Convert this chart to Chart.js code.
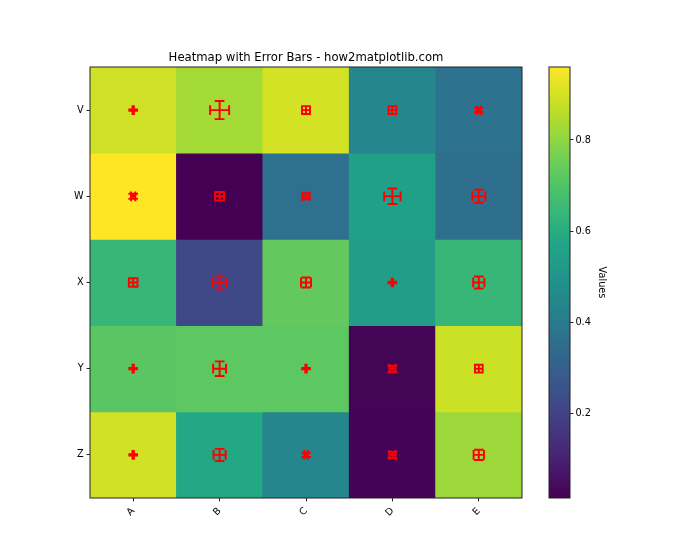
<!DOCTYPE html>
<html lang="en">
<head>
<meta charset="UTF-8">
<title>Heatmap with Error Bars - how2matplotlib.com</title>
<script src="https://cdn.jsdelivr.net/npm/chart.js"></script>
<style>
  body { margin: 0; background: #fff; }
  .wrap { position: relative; width: 700px; height: 560px; }
  .wrap canvas { position: absolute; left: 0; top: 0; }
</style>
</head>
<body>
<div class="wrap">
  <canvas id="heatmap" width="700" height="560"></canvas>
  <canvas id="colorbar" width="700" height="560"></canvas>
</div>
<script>
  const cols = ['A', 'B', 'C', 'D', 'E'];
  const rows = ['V', 'W', 'X', 'Y', 'Z'];
  // cell values, one row per label in rows
  const values = [
    [0.89, 0.83, 0.90, 0.45, 0.37],
    [0.96, 0.015, 0.365, 0.545, 0.36],
    [0.64, 0.22, 0.73, 0.535, 0.64],
    [0.715, 0.72, 0.72, 0.025, 0.885],
    [0.895, 0.58, 0.45, 0.02, 0.82]
  ];
  // error sizes (data units)
  const xErr = [
    [0.008, 0.11, 0.046, 0.046, 0.023],
    [0.025, 0.052, 0.04, 0.095, 0.075],
    [0.05, 0.08, 0.058, 0.008, 0.065],
    [0.008, 0.075, 0.008, 0.035, 0.045],
    [0.008, 0.07, 0.02, 0.035, 0.06]
  ];
  const yErr = [
    [0.008, 0.105, 0.046, 0.046, 0.025],
    [0.03, 0.05, 0.035, 0.09, 0.075],
    [0.05, 0.08, 0.058, 0.008, 0.07],
    [0.008, 0.085, 0.008, 0.035, 0.045],
    [0.008, 0.07, 0.025, 0.035, 0.06]
  ];
  const cbTicks = [0.2, 0.4, 0.6, 0.8];

  const font = 'DejaVu Sans';
  const pt = 70 / 72; // figure was saved at 70 dpi
  const viridis = ['#440154', '#482475', '#414487', '#355f8d', '#2a788e', '#21918c',
                   '#22a884', '#44bf70', '#7ad151', '#bddf26', '#fde725'];
  const allVals = values.flat();
  const vmin = Math.min(...allVals);
  const vmax = Math.max(...allVals);

  function hex(c) {
    return [1, 3, 5].map(i => parseInt(c.slice(i, i + 2), 16));
  }
  function cmap(t) {
    t = Math.max(0, Math.min(1, t));
    const p = t * 10;
    const i = Math.min(9, Math.floor(p));
    const f = p - i;
    const a = hex(viridis[i]), b = hex(viridis[i + 1]);
    const c = a.map((v, k) => Math.round(v + (b[k] - v) * f));
    return 'rgb(' + c.join(',') + ')';
  }

  // black frame round the plot area
  const frame = {
    id: 'frame',
    afterDatasetsDraw(chart) {
      const { ctx, chartArea: a } = chart;
      ctx.save();
      ctx.strokeStyle = '#222';
      ctx.lineWidth = 1;
      ctx.strokeRect(a.left, a.top, a.right - a.left, a.bottom - a.top);
      ctx.restore();
    }
  };

  // red error bars with caps, drawn at each cell centre
  const errorBars = {
    id: 'errorBars',
    afterDatasetsDraw(chart) {
      const { ctx, scales: { x, y } } = chart;
      const ux = Math.abs(x.getPixelForValue(1) - x.getPixelForValue(0));
      const uy = Math.abs(y.getPixelForValue(1) - y.getPixelForValue(0));
      const cap = 5 * pt;
      ctx.save();
      ctx.strokeStyle = '#ff0000';
      ctx.lineWidth = 2 * pt;
      rows.forEach((r, ri) => {
        cols.forEach((c, ci) => {
          const cx = x.getPixelForValue(ci);
          const cy = y.getPixelForValue(ri);
          const dx = xErr[ri][ci] * ux;
          const dy = yErr[ri][ci] * uy;
          ctx.beginPath();
          ctx.moveTo(cx - dx, cy); ctx.lineTo(cx + dx, cy);
          ctx.moveTo(cx, cy - dy); ctx.lineTo(cx, cy + dy);
          ctx.moveTo(cx - dx, cy - cap); ctx.lineTo(cx - dx, cy + cap);
          ctx.moveTo(cx + dx, cy - cap); ctx.lineTo(cx + dx, cy + cap);
          ctx.moveTo(cx - cap, cy - dy); ctx.lineTo(cx + cap, cy - dy);
          ctx.moveTo(cx - cap, cy + dy); ctx.lineTo(cx + cap, cy + dy);
          ctx.stroke();
        });
      });
      ctx.restore();
    }
  };

  new Chart(document.getElementById('heatmap'), {
    type: 'bar',
    data: {
      labels: cols,
      datasets: rows.map((r, ri) => ({
        label: r,
        data: cols.map(() => [ri - 0.5, ri + 0.5]),
        backgroundColor: values[ri].map(v => cmap((v - vmin) / (vmax - vmin))),
        borderWidth: 0,
        barPercentage: 1,
        categoryPercentage: 1,
        grouped: false
      }))
    },
    options: {
      responsive: false,
      animation: false,
      layout: { padding: { left: 60, right: 178, top: 51, bottom: 32 } },
      plugins: {
        legend: { display: false },
        tooltip: { enabled: false },
        title: {
          display: true,
          fullSize: false,
          text: 'Heatmap with Error Bars - how2matplotlib.com',
          color: '#000',
          font: { family: font, size: 12 * pt, weight: 'normal' },
          padding: { top: 0, bottom: 2 }
        }
      },
      scales: {
        x: {
          afterFit: s => { s.height = 30; },
          grid: { offset: false, drawOnChartArea: false, tickLength: 3.5 * pt, color: '#222' },
          border: { display: false },
          ticks: {
            minRotation: 45, maxRotation: 45, padding: 4, color: '#000',
            font: { family: font, size: 10 * pt }
          }
        },
        y: {
          type: 'linear',
          reverse: true,
          min: -0.5,
          max: 4.5,
          afterFit: s => { s.width = 30; },
          afterBuildTicks: s => { s.ticks = rows.map((r, i) => ({ value: i })); },
          grid: { drawOnChartArea: false, tickLength: 3.5 * pt, color: '#222' },
          border: { display: false },
          ticks: {
            padding: 3, color: '#000',
            font: { family: font, size: 10 * pt },
            callback: v => rows[v]
          }
        }
      }
    },
    plugins: [errorBars, frame]
  });

  function cbGradient(c) {
    const chart = c.chart;
    const y = chart.scales.y;
    if (!chart.chartArea || !y) return viridis[5];
    const g = chart.ctx.createLinearGradient(0, y.getPixelForValue(vmin), 0, y.getPixelForValue(vmax));
    viridis.forEach((col, k) => g.addColorStop(k / 10, col));
    return g;
  }

  new Chart(document.getElementById('colorbar'), {
    type: 'bar',
    data: {
      labels: [''],
      datasets: [{
        data: [[vmin, vmax]],
        backgroundColor: cbGradient,
        borderWidth: 0,
        barPercentage: 1,
        categoryPercentage: 1
      }]
    },
    options: {
      responsive: false,
      animation: false,
      layout: { padding: { left: 549, right: 90, top: 67, bottom: 62 } },
      plugins: { legend: { display: false }, tooltip: { enabled: false } },
      scales: {
        x: { display: false },
        y: {
          position: 'right',
          min: vmin,
          max: vmax,
          afterFit: s => { s.width = 40; },
          afterBuildTicks: s => { s.ticks = cbTicks.map(v => ({ value: v })); },
          grid: { drawOnChartArea: false, tickLength: 3.5 * pt, color: '#222' },
          border: { display: false },
          ticks: {
            padding: 2, color: '#000',
            font: { family: font, size: 10 * pt },
            callback: v => v.toFixed(1)
          },
          title: {
            display: true,
            text: 'Values',
            color: '#000',
            font: { family: font, size: 10 * pt },
            padding: { top: 3, bottom: 0 }
          }
        }
      }
    },
    plugins: [frame]
  });
</script>
</body>
</html>
